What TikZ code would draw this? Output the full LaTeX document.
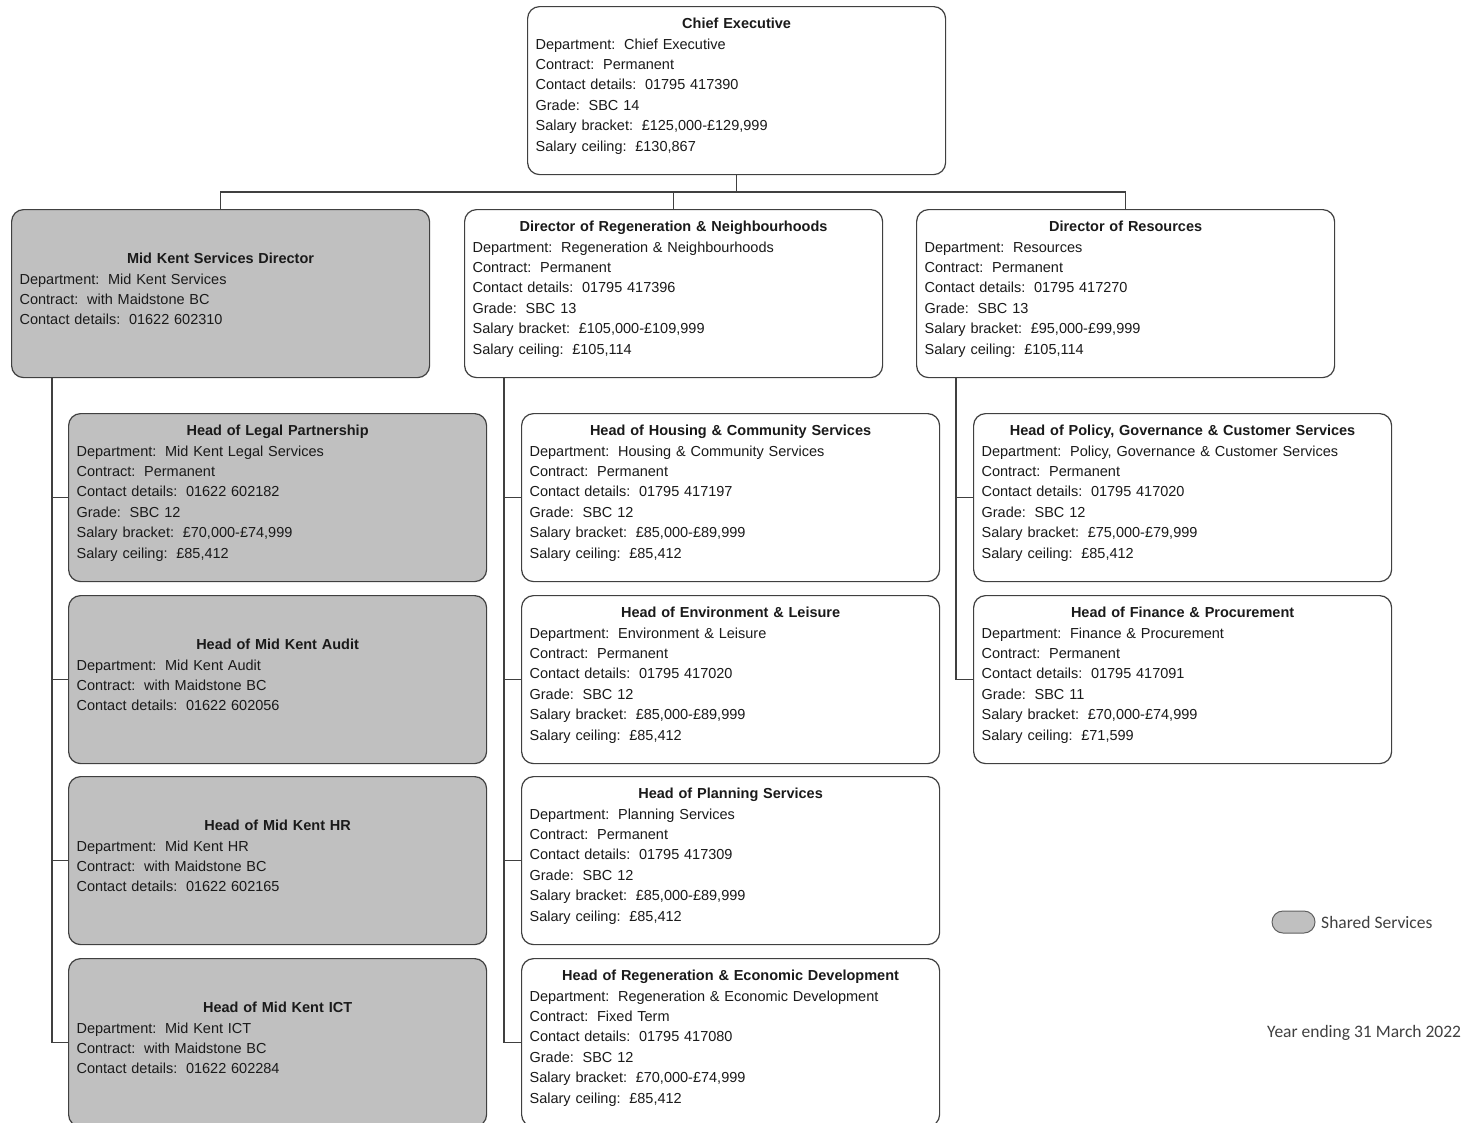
\documentclass[tikz,border=0pt]{standalone}
\usepackage{fontspec}
\setmainfont{Liberation Sans}
\newfontfamily\calfont{Carlito}
\definecolor{boxline}{HTML}{404040}
\definecolor{sharedfill}{HTML}{C0C0C0}
\definecolor{txtcol}{HTML}{1A1A1A}
\definecolor{legtxt}{HTML}{404040}
\newcommand\kv[2]{#1:\hspace{0.6em}#2}
\newcommand\ttl[1]{\makebox[\hsize][c]{\bfseries #1}}
\tikzset{
  box/.style={draw=boxline, line width=1.2pt, rounded corners=12pt, minimum width=418pt, minimum height=168pt, inner sep=0pt, anchor=north west, fill=white},
  shared/.style={fill=sharedfill},
  txt/.style={text width=402pt, align=left, inner sep=0pt, text=txtcol, font=\fontsize{14.5}{20.4}\selectfont},
  conn/.style={draw=boxline, line width=1.2pt},
}
\newcommand\obox[5]{%
  \node[box,#4] (#1) at (#2,#3) {};
  \node[txt] (#1t) at ([yshift=4.5pt]#1.center) {#5};
}
\begin{document}
\begin{tikzpicture}[x=1pt,y=-1pt]
\fill[white] (0,0) rectangle (1471,1122);
\clip (0,0) rectangle (1471,1122);

\obox{ce}{527}{6}{}{\ttl{Chief Executive}\\
\kv{Department}{Chief Executive}\\
\kv{Contract}{Permanent}\\
\kv{Contact details}{01795 417390}\\
\kv{Grade}{SBC 14}\\
\kv{Salary bracket}{£125,000-£129,999}\\
\kv{Salary ceiling}{£130,867}}

\obox{mks}{11}{209}{shared}{\ttl{Mid Kent Services Director}\\
\kv{Department}{Mid Kent Services}\\
\kv{Contract}{with Maidstone BC}\\
\kv{Contact details}{01622 602310}}

\obox{reg}{464}{209}{}{\ttl{Director of Regeneration \& Neighbourhoods}\\
\kv{Department}{Regeneration \& Neighbourhoods}\\
\kv{Contract}{Permanent}\\
\kv{Contact details}{01795 417396}\\
\kv{Grade}{SBC 13}\\
\kv{Salary bracket}{£105,000-£109,999}\\
\kv{Salary ceiling}{£105,114}}

\obox{res}{916}{209}{}{\ttl{Director of Resources}\\
\kv{Department}{Resources}\\
\kv{Contract}{Permanent}\\
\kv{Contact details}{01795 417270}\\
\kv{Grade}{SBC 13}\\
\kv{Salary bracket}{£95,000-£99,999}\\
\kv{Salary ceiling}{£105,114}}

\obox{legal}{68}{413}{shared}{\ttl{Head of Legal Partnership}\\
\kv{Department}{Mid Kent Legal Services}\\
\kv{Contract}{Permanent}\\
\kv{Contact details}{01622 602182}\\
\kv{Grade}{SBC 12}\\
\kv{Salary bracket}{£70,000-£74,999}\\
\kv{Salary ceiling}{£85,412}}

\obox{audit}{68}{595}{shared}{\ttl{Head of Mid Kent Audit}\\
\kv{Department}{Mid Kent Audit}\\
\kv{Contract}{with Maidstone BC}\\
\kv{Contact details}{01622 602056}}

\obox{hr}{68}{776}{shared}{\ttl{Head of Mid Kent HR}\\
\kv{Department}{Mid Kent HR}\\
\kv{Contract}{with Maidstone BC}\\
\kv{Contact details}{01622 602165}}

\obox{ict}{68}{958}{shared}{\ttl{Head of Mid Kent ICT}\\
\kv{Department}{Mid Kent ICT}\\
\kv{Contract}{with Maidstone BC}\\
\kv{Contact details}{01622 602284}}

\obox{housing}{521}{413}{}{\ttl{Head of Housing \& Community Services}\\
\kv{Department}{Housing \& Community Services}\\
\kv{Contract}{Permanent}\\
\kv{Contact details}{01795 417197}\\
\kv{Grade}{SBC 12}\\
\kv{Salary bracket}{£85,000-£89,999}\\
\kv{Salary ceiling}{£85,412}}

\obox{env}{521}{595}{}{\ttl{Head of Environment \& Leisure}\\
\kv{Department}{Environment \& Leisure}\\
\kv{Contract}{Permanent}\\
\kv{Contact details}{01795 417020}\\
\kv{Grade}{SBC 12}\\
\kv{Salary bracket}{£85,000-£89,999}\\
\kv{Salary ceiling}{£85,412}}

\obox{plan}{521}{776}{}{\ttl{Head of Planning Services}\\
\kv{Department}{Planning Services}\\
\kv{Contract}{Permanent}\\
\kv{Contact details}{01795 417309}\\
\kv{Grade}{SBC 12}\\
\kv{Salary bracket}{£85,000-£89,999}\\
\kv{Salary ceiling}{£85,412}}

\obox{red}{521}{958}{}{\ttl{Head of Regeneration \& Economic Development}\\
\kv{Department}{Regeneration \& Economic Development}\\
\kv{Contract}{Fixed Term}\\
\kv{Contact details}{01795 417080}\\
\kv{Grade}{SBC 12}\\
\kv{Salary bracket}{£70,000-£74,999}\\
\kv{Salary ceiling}{£85,412}}

\obox{policy}{973}{413}{}{\ttl{Head of Policy, Governance \& Customer Services}\\
\kv{Department}{Policy, Governance \& Customer Services}\\
\kv{Contract}{Permanent}\\
\kv{Contact details}{01795 417020}\\
\kv{Grade}{SBC 12}\\
\kv{Salary bracket}{£75,000-£79,999}\\
\kv{Salary ceiling}{£85,412}}

\obox{fin}{973}{595}{}{\ttl{Head of Finance \& Procurement}\\
\kv{Department}{Finance \& Procurement}\\
\kv{Contract}{Permanent}\\
\kv{Contact details}{01795 417091}\\
\kv{Grade}{SBC 11}\\
\kv{Salary bracket}{£70,000-£74,999}\\
\kv{Salary ceiling}{£71,599}}

% connectors
\coordinate (bus) at (736,192);
\draw[conn] (ce.south) -- (ce.south |- bus);
\draw[conn] (mks.north) |- (bus) -| (res.north);
\draw[conn] (reg.north) -- (reg.north |- bus);

\coordinate (lt) at (52,377);
\draw[conn] (lt) |- (ict.west);
\foreach \n in {legal,audit,hr} \draw[conn] (lt |- \n.west) -- (\n.west);

\coordinate (mt) at (504,377);
\draw[conn] (mt) |- (red.west);
\foreach \n in {housing,env,plan} \draw[conn] (mt |- \n.west) -- (\n.west);

\coordinate (rt) at (956,377);
\draw[conn] (rt) |- (fin.west);
\draw[conn] (rt |- policy.west) -- (policy.west);

% legend
\node[draw=gray!75!black, fill=sharedfill, rounded corners=11pt, minimum width=43pt, minimum height=22pt, inner sep=0pt, line width=1pt] (leg) at (1293.5,922) {};
\node[anchor=west, inner sep=0pt, text=legtxt, font=\calfont\fontsize{17.5}{20}\selectfont] (legt) at (1321,922) {Shared Services};
\node[anchor=west, inner sep=0pt, text=legtxt, font=\calfont\fontsize{17.5}{20}\selectfont] (year) at (1267,1033) {Year ending 31 March 2022};
\end{tikzpicture}
\end{document}
